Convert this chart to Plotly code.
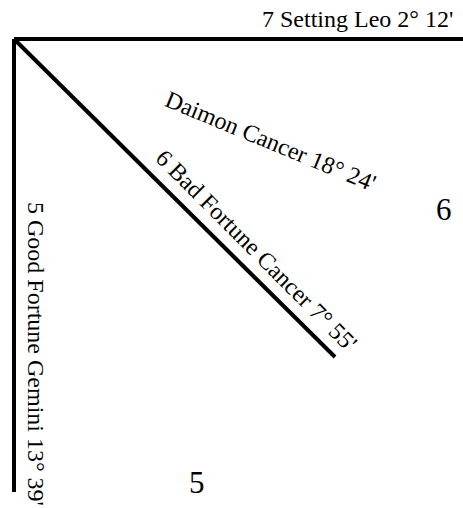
import plotly.graph_objects as go

# Cusp lines (chart coordinates, y grows downward)
cusp_names = ["7 Setting", "5 Good Fortune", "6 Bad Fortune"]
cusp_x = [[14, 463], [14, 14], [14, 335]]
cusp_y = [[39, 39], [39, 492], [39, 357]]

# Labels
label_texts = ["7 Setting Leo 2° 12'", "Daimon Cancer 18° 24'",
               "6 Bad Fortune Cancer 7° 55'", "5 Good Fortune Gemini 13° 39'"]
label_x = [357, 270, 256, 36]
label_y = [19, 141, 250, 354]
label_angle = [0, 22.5, 45, 90]

house_texts = ["6", "5"]
house_x = [444, 197]
house_y = [209, 482]

fig = go.Figure()
for name, xs, ys in zip(cusp_names, cusp_x, cusp_y):
    fig.add_trace(go.Scatter(x=xs, y=ys, mode="lines", name=name,
                             line=dict(color="black", width=4),
                             hoverinfo="skip", showlegend=False))

font_family = "Liberation Serif"
for t, x, y, a in zip(label_texts, label_x, label_y, label_angle):
    fig.add_annotation(x=x, y=y, text=t, textangle=a, showarrow=False,
                       xanchor="center", yanchor="middle",
                       font=dict(family=font_family, size=24, color="black"))
for t, x, y in zip(house_texts, house_x, house_y):
    fig.add_annotation(x=x, y=y, text=t, showarrow=False,
                       xanchor="center", yanchor="middle",
                       font=dict(family=font_family, size=31, color="black"))

fig.update_layout(width=463, height=508, margin=dict(l=0, r=0, t=0, b=0),
                  paper_bgcolor="white", plot_bgcolor="white",
                  font=dict(family=font_family),
                  xaxis=dict(range=[0, 463], visible=False, fixedrange=True),
                  yaxis=dict(range=[508, 0], visible=False, fixedrange=True))
fig.write_html("out.html", config={"displayModeBar": False},
               post_script="document.body.style.margin='0';document.body.style.overflow='hidden';")
